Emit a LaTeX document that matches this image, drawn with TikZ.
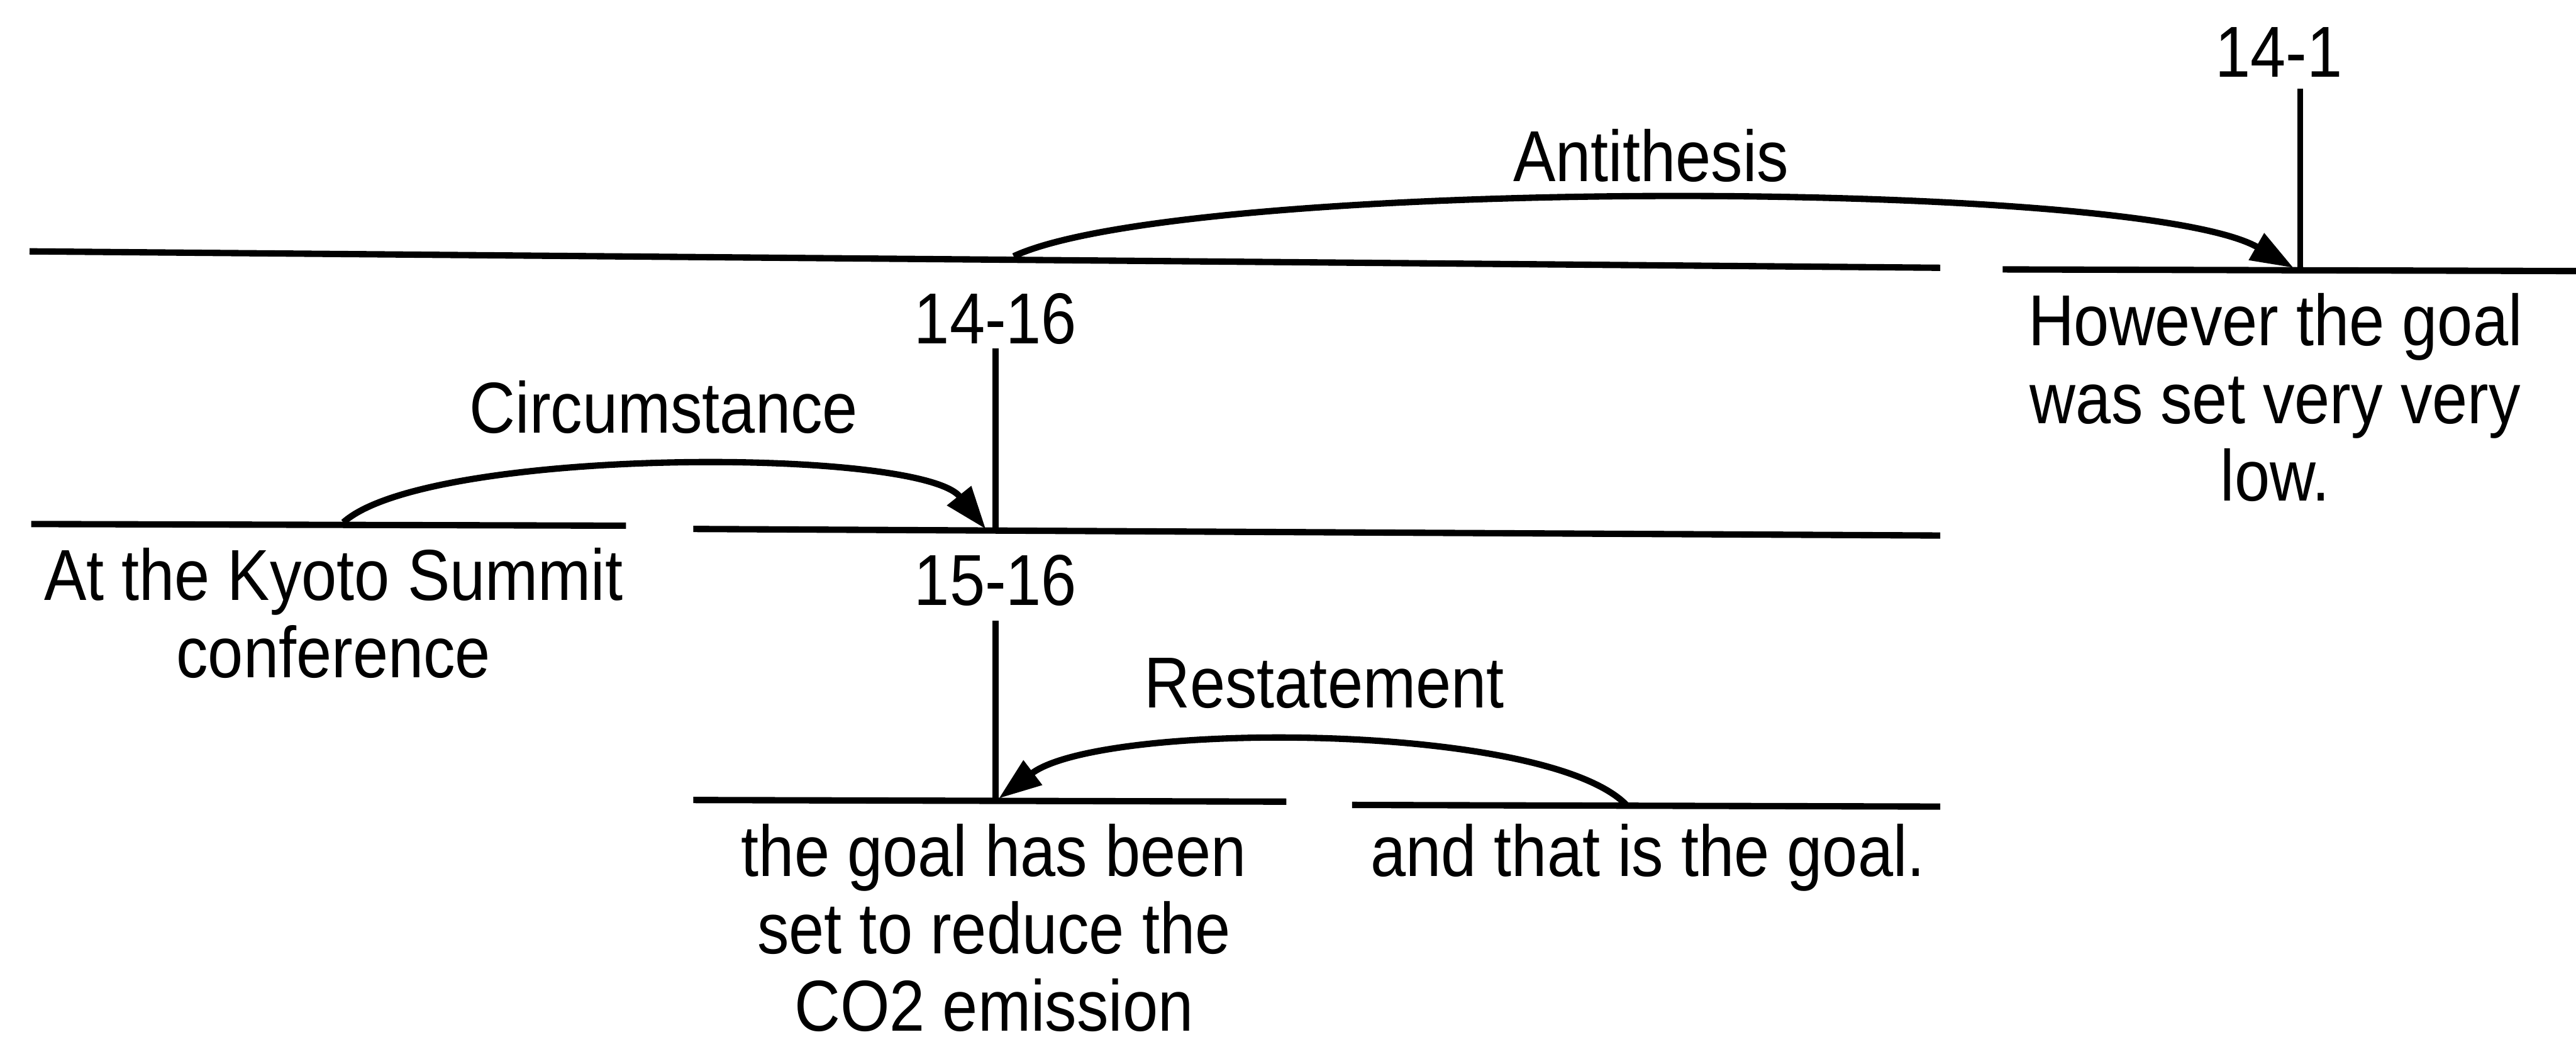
\documentclass[tikz,border=0pt]{standalone}
\usepackage{fontspec}
\setmainfont{Liberation Sans}[FakeStretch=0.88]
\usetikzlibrary{arrows.meta}

\begin{document}
\begin{tikzpicture}[x=0.1mm, y=-0.1mm,
		span/.style={line width=1.1pt},
		tick/.style={line width=1pt},
		relarc/.style={line width=1.1pt, -{Triangle[length=2.6mm, width=1.8mm]}},
		lbl/.style={anchor=north, inner sep=0pt, align=center, font=\fontsize{12.5}{13.4}\selectfont}]
			% Frame:
			\useasboundingbox (0,0) rectangle (1568,634);
			% Span end points:
			\coordinate (P1) at (18,153);
			\coordinate (P2) at (1181,163);
			\coordinate (P3) at (1219,164);
			\coordinate (P4) at (1568,165);
			\coordinate (P5) at (19,319);
			\coordinate (P6) at (381,320);
			\coordinate (P7) at (422,322);
			\coordinate (P8) at (1181,326);
			\coordinate (P9) at (422,487);
			\coordinate (P10) at (783,488);
			\coordinate (P11) at (823,490);
			\coordinate (P12) at (1181,491);
			% Tick tops and feet:
			\coordinate (T1) at (1400,54);
			\coordinate (F1) at (1400,164);
			\coordinate (T2) at (606,212);
			\coordinate (F2) at (606,322);
			\coordinate (T3) at (606,378);
			\coordinate (F3) at (606,487);
			% Arc ends:
			\coordinate (A1) at (617,156);
			\coordinate (B1) at (1396,163);
			\coordinate (A2) at (209,318);
			\coordinate (B2) at (600,322);
			\coordinate (A3) at (990,490);
			\coordinate (B3) at (608,486);
			% Labels:
			\node[lbl](N1) at (1387,16){14-1};
			\node[lbl](N2) at (1005,78){Antithesis};
			\node[lbl](N3) at (1385,178){However the goal\\was set very very\\low.};
			\node[lbl](N4) at (606,178){14-16};
			\node[lbl](N5) at (404,231){Circumstance};
			\node[lbl](N6) at (203,333){At the Kyoto Summit\\conference};
			\node[lbl](N7) at (606,337){15-16};
			\node[lbl](N8) at (806,400){Restatement};
			\node[lbl](N9) at (605,501){the goal has been\\set to reduce the\\CO2 emission};
			\node[lbl](N10) at (1003,501){and that is the goal.};
			% Spans:
			\draw[span] (P1) -- (P2);
			\draw[span] (P3) -- (P4);
			\draw[span] (P5) -- (P6);
			\draw[span] (P7) -- (P8);
			\draw[span] (P9) -- (P10);
			\draw[span] (P11) -- (P12);
			% Ticks:
			\draw[tick] (T1) -- (F1);
			\draw[tick] (T2) -- (F2);
			\draw[tick] (T3) -- (F3);
			% Relations:
			\draw[relarc] (A1) .. controls (720,108) and (1300,108) .. (B1);
			\draw[relarc] (A2) .. controls (260,272) and (560,272) .. (B2);
			\draw[relarc] (A3) .. controls (940,439) and (670,439) .. (B3);
		\end{tikzpicture}
\end{document}
